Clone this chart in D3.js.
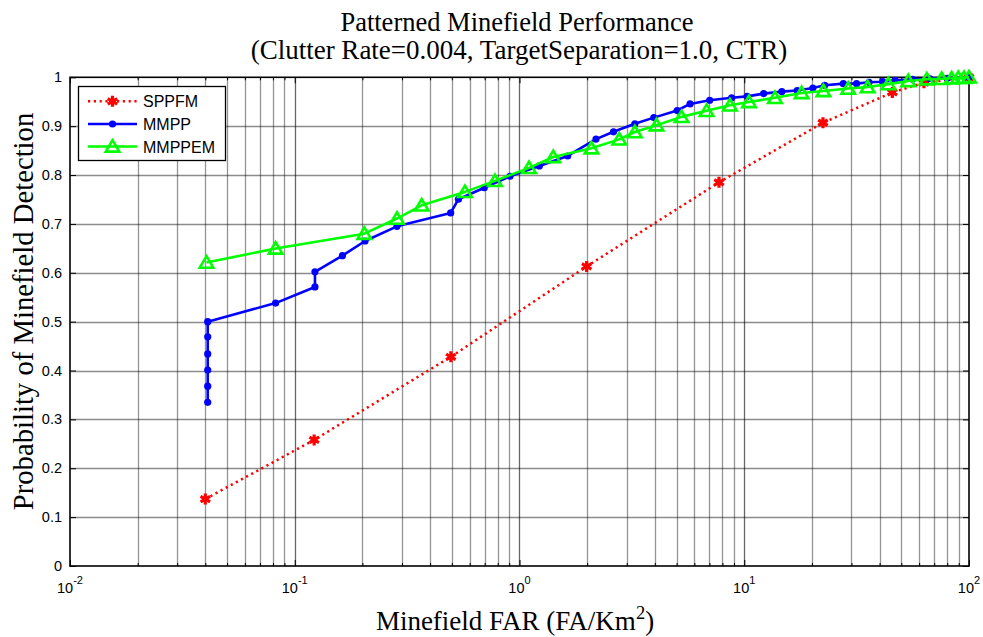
<!DOCTYPE html>
<html><head><meta charset="utf-8">
<script src="https://cdn.jsdelivr.net/npm/d3@7"></script>
<style>
html,body{margin:0;padding:0;background:#fff;}
svg{display:block;}
</style></head>
<body>
<svg id="chart" width="983" height="637"></svg>
<script>
// ---------- DATA ----------
const titleLines = ["Patterned Minefield Performance", "(Clutter Rate=0.004, TargetSeparation=1.0, CTR)"];
const xLabelMain = "Minefield FAR (FA/Km";
const xLabelSup = "2";
const yLabel = "Probability of Minefield Detection";
const xTickExponents = [-2, -1, 0, 1, 2];
const yTickValues = [0, 0.1, 0.2, 0.3, 0.4, 0.5, 0.6, 0.7, 0.8, 0.9, 1];
const yTickLabels = ["0", "0.1", "0.2", "0.3", "0.4", "0.5", "0.6", "0.7", "0.8", "0.9", "1"];
const seriesNames = ["SPPFM", "MMPP", "MMPPEM"];

const sppfmX = [0.04, 0.122, 0.495, 1.99, 7.72, 22.4, 45.6, 63, 100];
const sppfmY = [0.137, 0.258, 0.428, 0.613, 0.785, 0.907, 0.969, 0.989, 1.0];

const mmppX = [0.041, 0.041, 0.041, 0.041, 0.041, 0.041, 0.0822, 0.123, 0.123, 0.163, 0.2055, 0.285, 0.494, 0.535, 0.697, 0.907, 1.225, 1.638, 2.19, 2.62, 3.26, 3.96, 5.03, 5.74, 7.02, 8.79, 10.3, 12.2, 14.7, 17.2, 20.2, 22.8, 27.6, 31.6, 35.9, 41.3, 46.9, 56, 67, 80, 100];
const mmppY = [0.335, 0.368, 0.401, 0.434, 0.469, 0.500, 0.538, 0.571, 0.602, 0.635, 0.665, 0.695, 0.7225, 0.7505, 0.774, 0.7975, 0.8187, 0.839, 0.8735, 0.8885, 0.905, 0.9175, 0.932, 0.9455, 0.953, 0.958, 0.961, 0.9666, 0.9707, 0.973, 0.978, 0.9836, 0.987, 0.987, 0.9898, 0.991, 0.994, 0.996, 0.997, 0.998, 1.0];

const mmppemX = [0.0405, 0.0822, 0.204, 0.285, 0.367, 0.572, 0.778, 1.103, 1.413, 2.09, 2.78, 3.26, 4.07, 5.26, 6.80, 8.64, 10.5, 13.7, 18.0, 22.5, 29.0, 35.4, 43.8, 53.7, 64.9, 75.6, 83.7, 89.6, 95, 100];
const mmppemY = [0.621, 0.6497, 0.680, 0.711, 0.738, 0.7655, 0.788, 0.8146, 0.837, 0.855, 0.873, 0.888, 0.902, 0.919, 0.9315, 0.9427, 0.9495, 0.958, 0.968, 0.972, 0.977, 0.980, 0.986, 0.9925, 0.996, 0.997, 0.998, 0.999, 0.999, 1.0];

// ---------- LAYOUT ----------
const svg = d3.select("#chart");
const L = 70, R = 969, T = 77.3, B = 566;
const x = d3.scaleLog().domain([1e-2, 1e2]).range([L, R]);
const y = d3.scaleLinear().domain([0, 1]).range([B, T]);

const serif = "'Liberation Serif','Times New Roman',serif";
const sans = "'Liberation Sans',Arial,sans-serif";

// minor/major x grid values
const xGridVals = [];
for (let e = -2; e < 2; e++) for (let m = 1; m <= 9; m++) xGridVals.push(m * Math.pow(10, e));
xGridVals.push(100);

// grid
const grid = svg.append("g");
grid.selectAll("line.vx").data(xGridVals.filter(v => v > 0.01 && v < 100)).enter().append("line")
  .attr("x1", d => Math.round(x(d)) + 0.5).attr("x2", d => Math.round(x(d)) + 0.5)
  .attr("y1", T).attr("y2", B)
  .attr("stroke", "#000").attr("stroke-opacity", d => Math.abs(Math.log10(d) - Math.round(Math.log10(d))) < 1e-9 ? 0.6 : 0.42)
  .attr("stroke-width", 1.3);
grid.selectAll("line.hy").data(yTickValues.filter(v => v > 0 && v < 1)).enter().append("line")
  .attr("x1", L).attr("x2", R)
  .attr("y1", d => Math.round(y(d)) + 0.5).attr("y2", d => Math.round(y(d)) + 0.5)
  .attr("stroke", "#000").attr("stroke-opacity", 0.45).attr("stroke-width", 1.3);

// axes with inward ticks
const xMajor = xTickExponents.map(e => Math.pow(10, e));
const xMinor = xGridVals.filter(v => !xMajor.some(m => Math.abs(m - v) / m < 1e-9));
function drawXAxis(posY, dir) {
  const g = svg.append("g").attr("transform", `translate(0,${posY})`);
  g.call(d3.axisBottom(x).tickValues(xMajor).tickSize(-6 * dir).tickFormat(""));
  const g2 = svg.append("g").attr("transform", `translate(0,${posY})`);
  g2.call(d3.axisBottom(x).tickValues(xMinor).tickSize(-3 * dir).tickFormat(""));
  [g, g2].forEach(gg => { gg.select(".domain").remove(); gg.selectAll("line").attr("stroke", "#000"); });
}
drawXAxis(B, 1);
drawXAxis(T, -1);
function drawYAxis(posX, dir) {
  const g = svg.append("g").attr("transform", `translate(${posX},0)`);
  g.call(d3.axisLeft(y).tickValues(yTickValues).tickSize(-6 * dir).tickFormat(""));
  g.select(".domain").remove();
  g.selectAll("line").attr("stroke", "#000");
}
drawYAxis(L, 1);
drawYAxis(R, -1);

// box
svg.append("rect").attr("x", L).attr("y", T).attr("width", R - L).attr("height", B - T)
  .attr("fill", "none").attr("stroke", "#000").attr("stroke-width", 1.6);

// y tick labels
svg.append("g").selectAll("text").data(yTickValues).enter().append("text")
  .attr("x", L - 8).attr("y", d => y(d) + 5)
  .attr("text-anchor", "end").attr("font-family", sans).attr("font-size", 14.5)
  .text((d, i) => yTickLabels[i]);

// x tick labels 10^e
const xtl = svg.append("g").selectAll("text").data(xTickExponents).enter().append("text")
  .attr("x", d => x(Math.pow(10, d))).attr("y", 593)
  .attr("text-anchor", "middle").attr("font-family", sans).attr("font-size", 14.5);
xtl.append("tspan").text("10");
xtl.append("tspan").attr("dy", -9).attr("font-size", 11).text(d => String(d));

// ---------- SERIES ----------
const line = d3.line().x(d => x(d[0])).y(d => y(d[1]));
const sppfm = sppfmX.map((v, i) => [v, sppfmY[i]]);
const mmpp = mmppX.map((v, i) => [v, mmppY[i]]);
const mmppem = mmppemX.map((v, i) => [v, mmppemY[i]]);

const triSym = { draw(ctx, size) { const w = size / 2, h = size * 0.85;
  ctx.moveTo(0, -h * 0.55); ctx.lineTo(w, h * 0.45); ctx.lineTo(-w, h * 0.45); ctx.closePath(); } };
const starPath = d3.symbol(d3.symbolAsterisk, 85)();
const triPath = d3.symbol(triSym, 13.5)();

// SPPFM
svg.append("path").datum(sppfm).attr("d", line).attr("fill", "none")
  .attr("stroke", "#ff0000").attr("stroke-width", 2.5).attr("stroke-dasharray", "2.2,3.6");
svg.append("g").selectAll("path").data(sppfm).enter().append("path")
  .attr("d", starPath).attr("transform", d => `translate(${x(d[0])},${y(d[1])})`)
  .attr("fill", "none").attr("stroke", "#ff0000").attr("stroke-width", 3.2);

// MMPP
svg.append("path").datum(mmpp).attr("d", line).attr("fill", "none")
  .attr("stroke", "#0000ff").attr("stroke-width", 2.6).attr("stroke-linejoin", "round");
svg.append("g").selectAll("circle").data(mmpp).enter().append("circle")
  .attr("cx", d => x(d[0])).attr("cy", d => y(d[1])).attr("r", 3.6).attr("fill", "#0000ff");

// MMPPEM
svg.append("path").datum(mmppem).attr("d", line).attr("fill", "none")
  .attr("stroke", "#00ff00").attr("stroke-width", 2.6).attr("stroke-linejoin", "round");
svg.append("g").selectAll("path").data(mmppem).enter().append("path")
  .attr("d", triPath).attr("transform", d => `translate(${x(d[0])},${y(d[1])})`)
  .attr("fill", "none").attr("stroke", "#00ff00").attr("stroke-width", 2.6);

// ---------- LEGEND ----------
const lg = svg.append("g");
lg.append("rect").attr("x", 78.5).attr("y", 86.5).attr("width", 147).attr("height", 74)
  .attr("fill", "#fff").attr("stroke", "#000").attr("stroke-width", 1.3);
const legendRows = [101.3, 124, 146.5];
const lx1 = 88, lx2 = 137, lmx = 112.5;
lg.append("line").attr("x1", lx1).attr("x2", lx2).attr("y1", legendRows[0]).attr("y2", legendRows[0])
  .attr("stroke", "#ff0000").attr("stroke-width", 2.5).attr("stroke-dasharray", "2.2,3.6");
lg.append("path").attr("d", starPath).attr("transform", `translate(${lmx},${legendRows[0]})`)
  .attr("fill", "none").attr("stroke", "#ff0000").attr("stroke-width", 3.2);
lg.append("line").attr("x1", lx1).attr("x2", lx2).attr("y1", legendRows[1]).attr("y2", legendRows[1])
  .attr("stroke", "#0000ff").attr("stroke-width", 2.6);
lg.append("circle").attr("cx", lmx).attr("cy", legendRows[1]).attr("r", 3.6).attr("fill", "#0000ff");
lg.append("line").attr("x1", lx1).attr("x2", lx2).attr("y1", legendRows[2]).attr("y2", legendRows[2])
  .attr("stroke", "#00ff00").attr("stroke-width", 2.6);
lg.append("path").attr("d", triPath).attr("transform", `translate(${lmx},${legendRows[2]})`)
  .attr("fill", "none").attr("stroke", "#00ff00").attr("stroke-width", 2.6);
lg.selectAll("text").data(seriesNames).enter().append("text")
  .attr("x", 143).attr("y", (d, i) => legendRows[i] + 6)
  .attr("font-family", sans).attr("font-size", 16).text(d => d);

// ---------- TITLES ----------
svg.append("text").attr("x", 517).attr("y", 31).attr("text-anchor", "middle")
  .attr("font-family", serif).attr("font-size", 26.5).text(titleLines[0]);
svg.append("text").attr("x", 519).attr("y", 59).attr("text-anchor", "middle")
  .attr("font-family", serif).attr("font-size", 27).text(titleLines[1]);

const xl = svg.append("text").attr("x", 515).attr("y", 630).attr("text-anchor", "middle")
  .attr("font-family", serif).attr("font-size", 27);
xl.append("tspan").text(xLabelMain);
xl.append("tspan").attr("dy", -11).attr("font-size", 18.5).text(xLabelSup);
xl.append("tspan").attr("dy", 11).text(")");

svg.append("text").attr("transform", `translate(33,311.5) rotate(-90)`)
  .attr("text-anchor", "middle").attr("font-family", serif).attr("font-size", 28.7).text(yLabel);
</script>
</body></html>
